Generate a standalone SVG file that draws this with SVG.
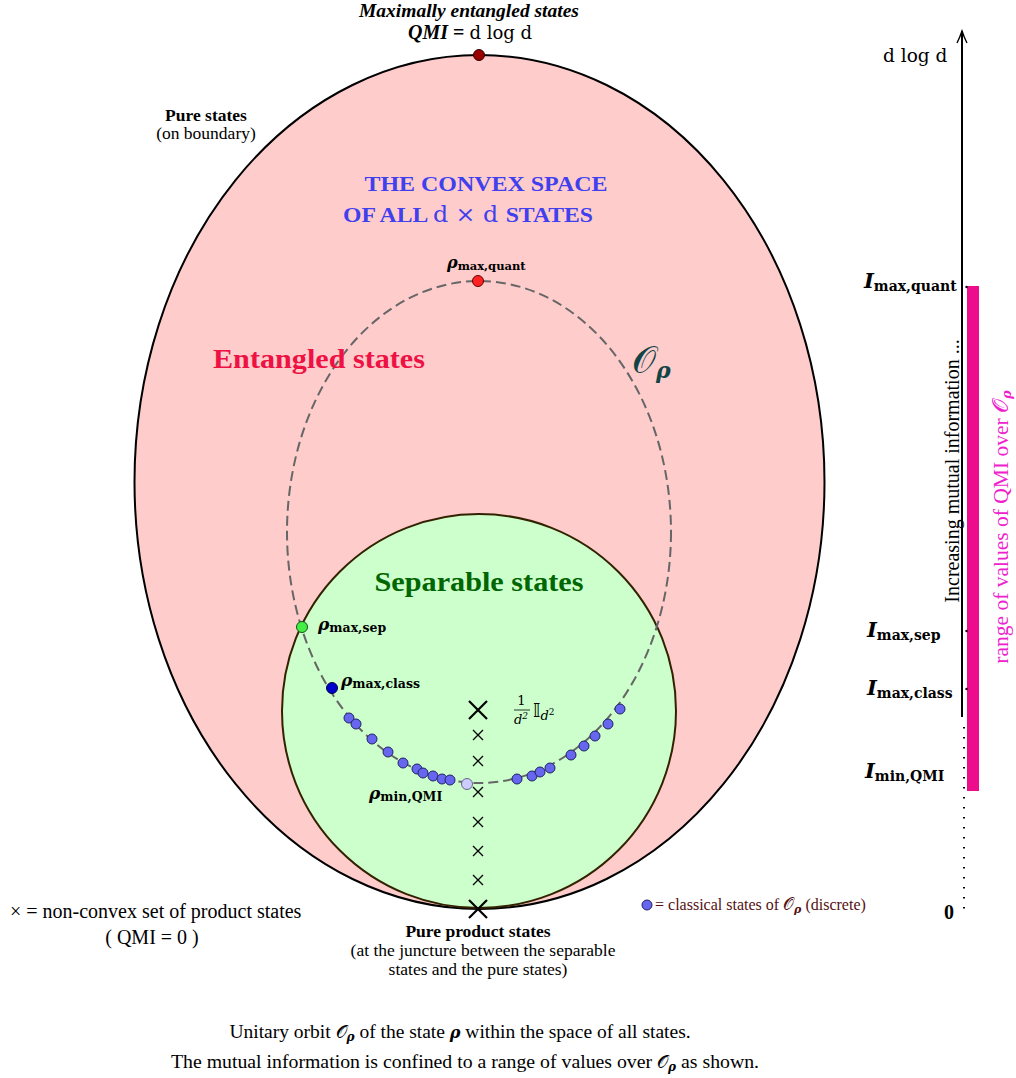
<svg xmlns="http://www.w3.org/2000/svg" width="1016" height="1078" viewBox="0 0 1016 1078">
<style>
text{font-family:"Liberation Serif","Times New Roman",serif;fill:#000}
.b{font-weight:bold}
.bi{font-weight:bold;font-style:italic}
.m{font-family:"DejaVu Serif",serif}
.rho{font-family:"DejaVu Serif",serif;font-weight:bold;font-style:italic}
.sub{font-family:"DejaVu Serif",serif;font-weight:bold}
.cal{font-family:"DejaVu Sans","Noto Sans",serif}
.dot{fill:#6666ee;stroke:#222266;stroke-width:1}
.cx{stroke:#000;stroke-width:1.3}
.cxl{stroke:#000;stroke-width:2.2}
.lbl{font-size:17.5px}
</style>
<defs>
<marker id="arr" markerWidth="16" markerHeight="12" refX="14" refY="6" orient="auto" markerUnits="userSpaceOnUse" viewBox="0 0 16 12">
<path d="M2,1 Q8,4 14,6 Q8,8 2,11" fill="none" stroke="#000" stroke-width="1.4"/>
</marker>
</defs>

<g id="all-states">
<ellipse cx="479.5" cy="482" rx="345" ry="427" fill="#ffcccc" stroke="#000" stroke-width="2"/>
</g>
<g id="separable-states">
<circle cx="479" cy="711" r="197" fill="#ccffcc" stroke="#332200" stroke-width="2"/>
</g>

<g id="connectors">
<ellipse cx="479" cy="532" rx="192" ry="251" fill="none" stroke="#666" stroke-width="2" stroke-dasharray="10 5"/>
<line x1="962" y1="717" x2="962" y2="31" stroke="#000" stroke-width="2" marker-end="url(#arr)"/>
<line x1="964" y1="727" x2="964" y2="916" stroke="#000" stroke-width="2" stroke-dasharray="1.6 8.4"/>
</g>

<g id="qmi-range-bar">
<rect x="967" y="286" width="12" height="505" fill="#ec0c8c"/>
<circle cx="966.5" cy="287" r="1.2" fill="#000"/>
<circle cx="966.5" cy="631" r="1.2" fill="#000"/>
<circle cx="966.5" cy="689" r="1.2" fill="#000"/>
</g>

<g id="max-entangled">
<circle cx="479" cy="55" r="5.5" fill="#990000" stroke="#330000" stroke-width="1"/>
<text x="469" y="17" text-anchor="middle" class="bi" font-size="19.5">Maximally entangled states</text>
<text x="470" y="39" text-anchor="middle" font-size="20"><tspan class="bi">QMI</tspan><tspan class="b"> = </tspan><tspan class="m" font-size="18">d log d</tspan></text>
</g>

<g id="pure-states-label">
<text x="206" y="121" text-anchor="middle" class="b lbl">Pure states</text>
<text x="206" y="139" text-anchor="middle" class="lbl">(on boundary)</text>
</g>

<g id="convex-space-title">
<text x="486" y="191" text-anchor="middle" class="b" font-size="22" style="fill:#4040ee" textLength="243" lengthAdjust="spacingAndGlyphs">THE CONVEX SPACE</text>
<text x="468" y="222" text-anchor="middle" font-size="22" style="fill:#4040ee" textLength="250" lengthAdjust="spacingAndGlyphs"><tspan class="b" style="fill:#4040ee">OF ALL </tspan><tspan class="m" style="fill:#4040ee">d × d </tspan><tspan class="b" style="fill:#4040ee">STATES</tspan></text>
</g>

<g id="entangled-label">
<text x="319" y="368" text-anchor="middle" class="b" font-size="27" style="fill:#ee1144" textLength="212" lengthAdjust="spacingAndGlyphs">Entangled states</text>
</g>

<g id="separable-label">
<text x="479" y="591" text-anchor="middle" class="b" font-size="27" style="fill:#006600" textLength="209" lengthAdjust="spacingAndGlyphs">Separable states</text>
</g>

<g id="orbit-label">
<text x="632" y="373" class="cal" font-size="38" style="fill:#114444">𝒪<tspan class="rho" font-size="22" dy="5" style="fill:#114444">ρ</tspan></text>
</g>

<g id="rho-max-quant">
<circle cx="478" cy="281" r="5.5" fill="#ff2222" stroke="#660000" stroke-width="1"/>
<text x="447" y="268"><tspan class="rho" font-size="16">ρ</tspan><tspan class="sub" font-size="11.5" dy="2">max,quant</tspan></text>
</g>

<g id="rho-max-sep">
<circle cx="302" cy="627" r="5.5" fill="#44ee44" stroke="#115511" stroke-width="1"/>
<text x="318" y="630"><tspan class="rho" font-size="17">ρ</tspan><tspan class="sub" font-size="12.5" dy="2">max,sep</tspan></text>
</g>

<g id="rho-max-class">
<circle cx="332" cy="688" r="5.5" fill="#0000cc" stroke="#000044" stroke-width="1"/>
<text x="341" y="686"><tspan class="rho" font-size="17">ρ</tspan><tspan class="sub" font-size="12.5" dy="2">max,class</tspan></text>
</g>

<g id="classical-states">
<circle class="dot" cx="349" cy="718" r="5"/>
<circle class="dot" cx="356" cy="724" r="5"/>
<circle class="dot" cx="372" cy="739" r="5"/>
<circle class="dot" cx="388" cy="752" r="5"/>
<circle class="dot" cx="403" cy="763" r="5"/>
<circle class="dot" cx="417" cy="769" r="5"/>
<circle class="dot" cx="423" cy="773" r="5"/>
<circle class="dot" cx="433" cy="776" r="5"/>
<circle class="dot" cx="442" cy="779" r="5"/>
<circle class="dot" cx="450" cy="780" r="5"/>
<circle class="dot" cx="517" cy="779" r="5"/>
<circle class="dot" cx="532" cy="776" r="5"/>
<circle class="dot" cx="540" cy="772" r="5"/>
<circle class="dot" cx="550" cy="768" r="5"/>
<circle class="dot" cx="571" cy="755" r="5"/>
<circle class="dot" cx="584" cy="746" r="5"/>
<circle class="dot" cx="595" cy="736" r="5"/>
<circle class="dot" cx="608" cy="724" r="5"/>
<circle class="dot" cx="620" cy="709" r="5"/>
</g>

<g id="rho-min-qmi">
<circle cx="467" cy="784" r="5.5" fill="#ccccff" stroke="#666688" stroke-width="1"/>
<text x="369" y="799"><tspan class="rho" font-size="17">ρ</tspan><tspan class="sub" font-size="12.5" dy="2">min,QMI</tspan></text>
</g>

<g id="product-states">
<path class="cxl" d="M469,701 L487,719 M487,701 L469,719"/>
<path class="cx" d="M473,730 L483,740 M483,730 L473,740"/>
<path class="cx" d="M473,756 L483,766 M483,756 L473,766"/>
<path class="cx" d="M473,787 L483,797 M483,787 L473,797"/>
<path class="cx" d="M473,817 L483,827 M483,817 L473,827"/>
<path class="cx" d="M473,846 L483,856 M483,846 L473,856"/>
<path class="cx" d="M473,875 L483,885 M483,875 L473,885"/>
<path class="cxl" d="M469,900 L487,918 M487,900 L469,918"/>
</g>

<g id="maximally-mixed">
<text x="521.5" y="705" text-anchor="middle" class="m" font-size="13">1</text>
<line x1="514" y1="710" x2="530" y2="710" stroke="#000" stroke-width="0.8"/>
<text x="514" y="724" class="m" font-size="13" font-style="italic">d<tspan font-size="9" dy="-5">2</tspan></text>
<text x="533" y="717" class="cal" font-size="19">𝕀<tspan class="m" font-style="italic" font-size="13" dy="3">d</tspan><tspan class="m" font-size="9" dy="-5">2</tspan></text>
</g>

<g id="pure-product-label">
<text x="478" y="937" text-anchor="middle" class="b lbl">Pure product states</text>
<text x="483" y="956" text-anchor="middle" class="lbl">(at the juncture between the separable</text>
<text x="478" y="975" text-anchor="middle" class="lbl">states and the pure states)</text>
</g>

<g id="product-legend">
<text x="10" y="918" font-size="20">× = non-convex set of product states</text>
<text x="152" y="944" text-anchor="middle" font-size="20">( QMI = 0 )</text>
</g>

<g id="classical-legend">
<circle class="dot" cx="647" cy="905" r="5"/>
<text x="655" y="910" font-size="16" style="fill:#551111">= classical states of <tspan class="cal" font-size="17" style="fill:#551111">𝒪</tspan><tspan class="rho" font-size="11" dy="3" style="fill:#551111">ρ</tspan><tspan dy="-3" style="fill:#551111"> (discrete)</tspan></text>
</g>

<g id="axis-labels">
<text x="883" y="62" class="m" font-size="18.5">d log d</text>
<text x="864" y="288"><tspan class="rho" font-size="21">I</tspan><tspan class="sub" font-size="14" dy="3">max,quant</tspan></text>
<text x="867" y="637"><tspan class="rho" font-size="21">I</tspan><tspan class="sub" font-size="14" dy="3">max,sep</tspan></text>
<text x="867" y="695"><tspan class="rho" font-size="21">I</tspan><tspan class="sub" font-size="14" dy="3">max,class</tspan></text>
<text x="865" y="778"><tspan class="rho" font-size="21">I</tspan><tspan class="sub" font-size="14" dy="3">min,QMI</tspan></text>
<text x="944" y="919" class="b" font-size="20">0</text>
<text transform="translate(959,471) rotate(-90)" text-anchor="middle" font-size="20">Increasing mutual information ...</text>
<text transform="translate(1008,527) rotate(-90)" text-anchor="middle" font-size="21.5" style="fill:#ee22cc">range of values of QMI over <tspan class="cal" style="fill:#ee22cc">𝒪</tspan><tspan class="rho" font-size="13" dy="3" style="fill:#ee22cc">ρ</tspan></text>
</g>

<g id="caption">
<text x="460" y="1038" text-anchor="middle" font-size="19.5">Unitary orbit <tspan class="cal" font-size="18">𝒪</tspan><tspan class="rho" font-size="12" dy="3">ρ</tspan><tspan dy="-3"> of the state </tspan><tspan class="rho" font-size="16">ρ</tspan> within the space of all states.</text>
<text x="465" y="1068" text-anchor="middle" font-size="19.8">The mutual information is confined to a range of values over <tspan class="cal" font-size="18">𝒪</tspan><tspan class="rho" font-size="12" dy="3">ρ</tspan><tspan dy="-3"> as shown.</tspan></text>
</g>
</svg>
